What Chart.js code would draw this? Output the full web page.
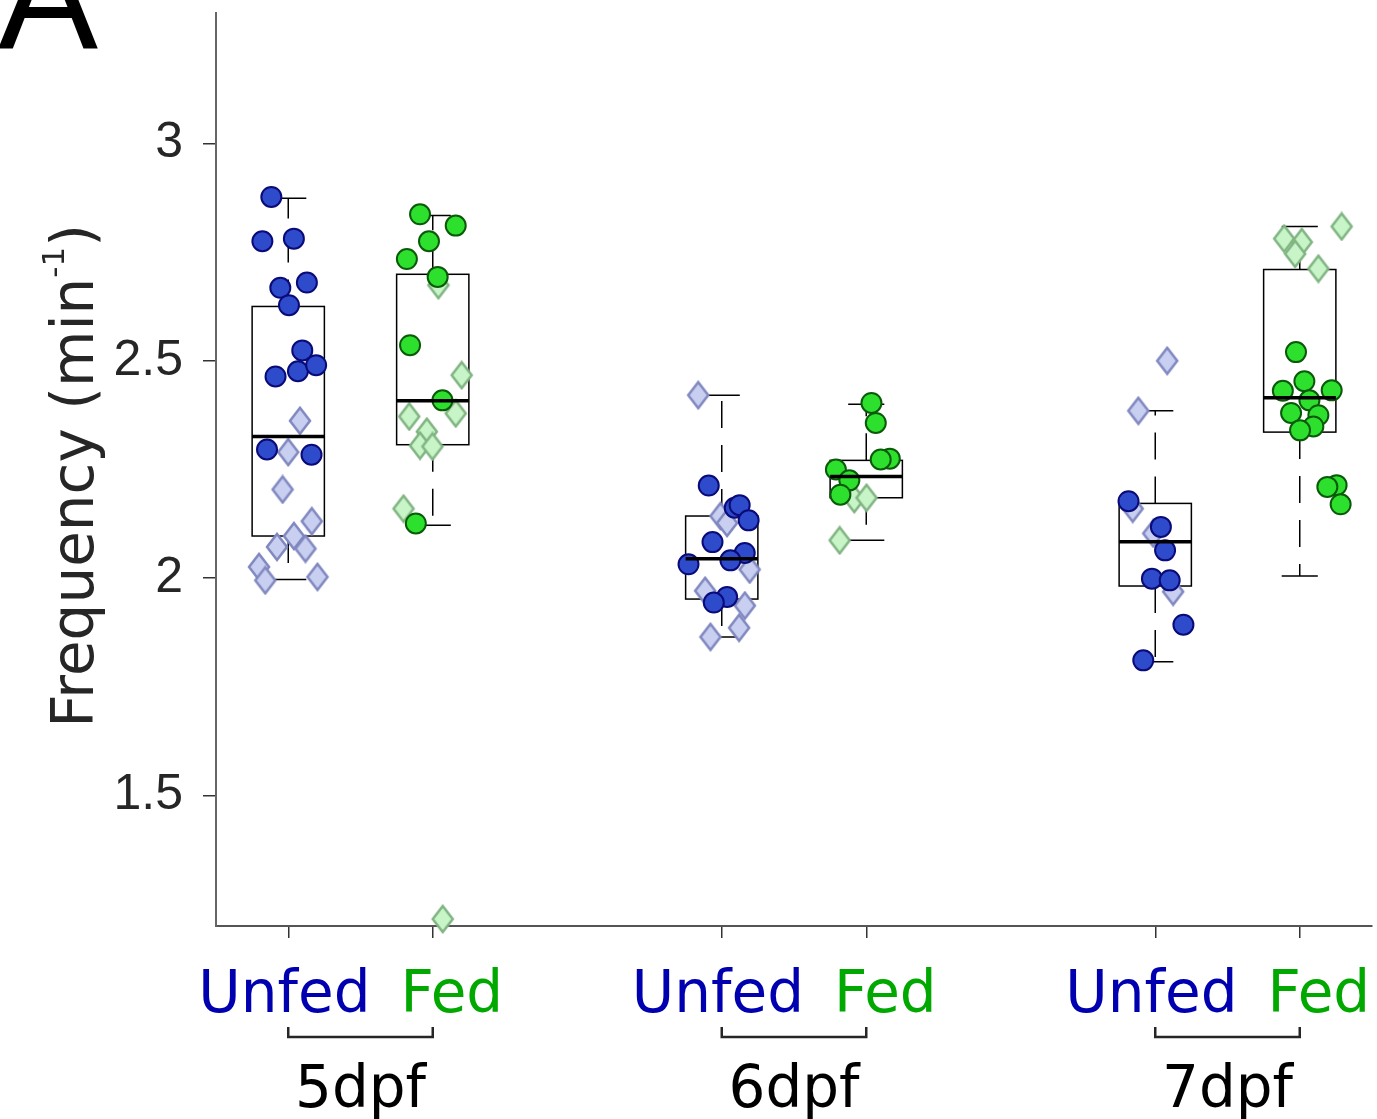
<!DOCTYPE html>
<html>
<head>
<meta charset="utf-8">
<script src="https://cdn.jsdelivr.net/npm/chart.js@4.4.1/dist/chart.umd.min.js"></script>
<style>
  html, body { margin: 0; padding: 0; background: #fff; }
  #wrap { width: 1377px; height: 1119px; position: relative; }
</style>
</head>
<body>
<div id="wrap"><canvas id="chart" width="1377" height="1119"></canvas></div>
<script>
// Groups along the x axis, two conditions each
const ages = ['5dpf', '6dpf', '7dpf'];
const conditions = ['Unfed', 'Fed'];
const boxPos = [1, 2, 4, 5, 7, 8];
const yTicks = [1.5, 2, 2.5, 3];

// Box statistics, one entry per box (Unfed/Fed for each age)
const boxQ1     = [2.097, 2.307, 1.952, 2.185, 1.982, 2.336];
const boxMedian = [2.326, 2.408, 2.045, 2.234, 2.084, 2.415];
const boxQ3     = [2.625, 2.699, 2.143, 2.271, 2.172, 2.710];
const whiskLo   = [1.997, 2.122, 1.865, 2.087, 1.808, 2.005];
const whiskHi   = [2.874, 2.834, 2.421, 2.400, 2.385, 2.809];

// Individual fish, [jittered x, frequency]
const unfedFilled = [
  [0.883, 2.877], [0.821, 2.775], [1.039, 2.781], [0.945, 2.668], [1.129, 2.680], [1.005, 2.628],
  [1.097, 2.524], [0.912, 2.464], [1.067, 2.476], [1.193, 2.490], [0.853, 2.296], [1.161, 2.284],
  [3.910, 2.213], [4.090, 2.162], [4.124, 2.168], [4.186, 2.133], [3.936, 2.083], [4.159, 2.058],
  [4.060, 2.041], [3.770, 2.032], [4.037, 1.957], [3.945, 1.944],
  [6.815, 2.177], [7.039, 2.118], [7.068, 2.064], [6.977, 1.999], [7.100, 1.995], [7.195, 1.893],
  [6.917, 1.811]
];
const unfedOpen = [
  [1.081, 2.362], [1.000, 2.290], [0.961, 2.204], [1.163, 2.131], [1.039, 2.097], [0.922, 2.072],
  [1.119, 2.068], [0.798, 2.026], [0.841, 1.995], [1.202, 2.003],
  [3.837, 2.421], [3.991, 2.143], [4.037, 2.127], [4.193, 2.020], [3.885, 1.971], [4.160, 1.937],
  [4.120, 1.886], [3.922, 1.865],
  [7.083, 2.500], [6.883, 2.385], [6.844, 2.160], [6.986, 2.103], [7.124, 1.969]
];
const fedFilled = [
  [1.912, 2.837], [2.159, 2.811], [1.974, 2.775], [1.821, 2.734], [2.034, 2.693], [1.843, 2.536],
  [2.067, 2.409], [1.883, 2.126],
  [5.036, 2.403], [5.066, 2.357], [5.163, 2.275], [5.100, 2.273], [4.790, 2.250], [4.883, 2.225],
  [4.821, 2.192],
  [7.974, 2.520], [8.032, 2.453], [7.883, 2.431], [8.221, 2.432], [8.067, 2.409], [7.940, 2.380],
  [8.129, 2.375], [8.094, 2.349], [8.002, 2.340], [8.255, 2.214], [8.191, 2.210], [8.283, 2.170]
];
const fedOpen = [
  [2.039, 2.674], [2.200, 2.467], [1.837, 2.372], [2.159, 2.379], [1.959, 2.337], [1.912, 2.305],
  [1.998, 2.303], [1.798, 2.160], [2.069, 1.216],
  [4.917, 2.182], [5.002, 2.185], [4.816, 2.087],
  [8.290, 2.809], [7.892, 2.781], [8.014, 2.773], [7.968, 2.746], [8.129, 2.712]
];

const BLUE_TXT = '#0000b0';
const GREEN_TXT = '#00a800';

function toPoints(arr) {
  return arr.map(p => ({ x: p[0], y: p[1] }));
}

// slightly tall diamond marker
function diamond(fill, stroke) {
  const c = document.createElement('canvas');
  c.width = 26; c.height = 30;
  const g = c.getContext('2d');
  g.beginPath();
  g.moveTo(13, 2); g.lineTo(23, 15); g.lineTo(13, 28); g.lineTo(3, 15);
  g.closePath();
  g.fillStyle = fill; g.fill();
  g.lineWidth = 2.5; g.strokeStyle = stroke; g.stroke();
  return c;
}

// boxes + whiskers under the points, median on top
const boxPlugin = {
  id: 'boxes',
  beforeDatasetsDraw(chart) {
    const { ctx, scales: { x, y } } = chart;
    ctx.save();
    ctx.strokeStyle = '#000';
    boxPos.forEach((p, i) => {
      const l = x.getPixelForValue(p - 0.25), r = x.getPixelForValue(p + 0.25);
      const cx = x.getPixelForValue(p);
      const cl = x.getPixelForValue(p - 0.125), cr = x.getPixelForValue(p + 0.125);
      const q1 = y.getPixelForValue(boxQ1[i]), q3 = y.getPixelForValue(boxQ3[i]);
      const lo = y.getPixelForValue(whiskLo[i]), hi = y.getPixelForValue(whiskHi[i]);
      ctx.lineWidth = 1.5;
      ctx.setLineDash([]);
      ctx.strokeRect(l, q3, r - l, q1 - q3);
      // caps
      ctx.beginPath();
      ctx.moveTo(cl, hi); ctx.lineTo(cr, hi);
      ctx.moveTo(cl, lo); ctx.lineTo(cr, lo);
      ctx.stroke();
      // dashed whiskers, starting from the box
      ctx.setLineDash([27, 17]);
      ctx.beginPath(); ctx.moveTo(cx, q3); ctx.lineTo(cx, hi); ctx.stroke();
      ctx.beginPath(); ctx.moveTo(cx, q1); ctx.lineTo(cx, lo); ctx.stroke();
    });
    ctx.restore();
  },
  afterDatasetsDraw(chart) {
    const { ctx, scales: { x, y } } = chart;
    ctx.save();
    ctx.strokeStyle = '#000';
    ctx.lineWidth = 3.5;
    boxPos.forEach((p, i) => {
      const m = y.getPixelForValue(boxMedian[i]);
      ctx.beginPath();
      ctx.moveTo(x.getPixelForValue(p - 0.25), m);
      ctx.lineTo(x.getPixelForValue(p + 0.25), m);
      ctx.stroke();
    });
    ctx.restore();
  }
};

// axis title, group labels and panel letter
const labelPlugin = {
  id: 'labels',
  afterDraw(chart) {
    const { ctx, scales: { x } } = chart;
    ctx.save();

    ctx.fillStyle = '#000';
    ctx.font = '150px "Liberation Sans", Arial, sans-serif';
    ctx.textAlign = 'left';
    ctx.textBaseline = 'alphabetic';
    ctx.fillText('A', -2, 48);

    // y title with superscript
    const big = '58px "DejaVu Sans"', small = '31px "DejaVu Sans"';
    ctx.font = big;
    const w1 = ctx.measureText('Frequency (min').width;
    const w3 = ctx.measureText(')').width;
    ctx.font = small;
    const w2 = ctx.measureText('-1').width;
    const total = w1 + w2 + w3;
    ctx.save();
    ctx.translate(93, 476);
    ctx.rotate(-Math.PI / 2);
    ctx.fillStyle = '#262626';
    let sx = -total / 2;
    ctx.font = big; ctx.fillText('Frequency (min', sx, 0); sx += w1;
    ctx.font = small; ctx.fillText('-1', sx, -29); sx += w2;
    ctx.font = big; ctx.fillText(')', sx, 0);
    ctx.restore();

    // condition labels, brackets, ages
    ages.forEach((age, g) => {
      const a = x.getPixelForValue(boxPos[g * 2]);
      const b = x.getPixelForValue(boxPos[g * 2 + 1]);
      const c = (a + b) / 2;
      ctx.font = '58px "DejaVu Sans"';
      ctx.textBaseline = 'alphabetic';
      ctx.textAlign = 'right';
      ctx.fillStyle = BLUE_TXT;
      ctx.fillText(conditions[0], c + 10, 1012);
      ctx.textAlign = 'left';
      ctx.fillStyle = GREEN_TXT;
      ctx.fillText(conditions[1], c + 40, 1012);

      ctx.strokeStyle = '#262626';
      ctx.lineWidth = 2.5;
      ctx.beginPath();
      ctx.moveTo(a, 1027); ctx.lineTo(a, 1037); ctx.lineTo(b, 1037); ctx.lineTo(b, 1027);
      ctx.stroke();

      ctx.fillStyle = '#000';
      ctx.textAlign = 'center';
      ctx.fillText(age, c, 1107);
    });
    ctx.restore();
  }
};

const circleStyle = (fill, border) => ({
  pointStyle: 'circle', pointRadius: 10, pointBorderWidth: 2,
  pointBackgroundColor: fill, pointBorderColor: border,
  pointHoverRadius: 10, showLine: false, clip: false
});

new Chart(document.getElementById('chart'), {
  type: 'scatter',
  data: {
    datasets: [
      { label: 'Unfed', data: toPoints(unfedFilled), ...circleStyle('#2e4bcc', '#0a0a78') },
      { label: 'Fed', data: toPoints(fedFilled), ...circleStyle('#2ee02e', '#0a5a0a') },
      { label: 'Unfed (open)', data: toPoints(unfedOpen), pointStyle: diamond('#c8cff0', '#8088c0'),
        showLine: false, clip: false },
      { label: 'Fed (open)', data: toPoints(fedOpen), pointStyle: diamond('#c8f5c8', '#80b482'),
        showLine: false, clip: false }
    ]
  },
  options: {
    responsive: false,
    animation: false,
    events: [],
    layout: { autoPadding: false, padding: { top: 13, right: 5, left: 0, bottom: 0 } },
    plugins: { legend: { display: false }, tooltip: { enabled: false } },
    scales: {
      x: {
        type: 'linear', min: 0.5, max: 8.5,
        afterBuildTicks: s => { s.ticks = boxPos.map(v => ({ value: v })); },
        afterFit: s => {
          s.height = 1119 - 926;
          s.paddingLeft = 0; s.paddingRight = 0;
        },
        ticks: { display: false },
        grid: { drawOnChartArea: false, drawTicks: true, tickLength: 12, color: '#333', lineWidth: 1.5 },
        border: { display: true, color: '#555', width: 2 }
      },
      y: {
        min: 1.2, max: 3.3,
        afterBuildTicks: s => { s.ticks = yTicks.map(v => ({ value: v })); },
        afterFit: s => {
          s.width = 216;
          s.paddingTop = 0; s.paddingBottom = 0;
        },
        ticks: {
          color: '#262626', padding: 20,
          font: { family: '"Liberation Sans", Arial, sans-serif', size: 50 },
          callback: v => String(v)
        },
        grid: { drawOnChartArea: false, drawTicks: true, tickLength: 13, color: '#333', lineWidth: 1.5 },
        border: { display: true, color: '#666', width: 2 }
      }
    }
  },
  plugins: [boxPlugin, labelPlugin]
});
</script>
</body>
</html>
